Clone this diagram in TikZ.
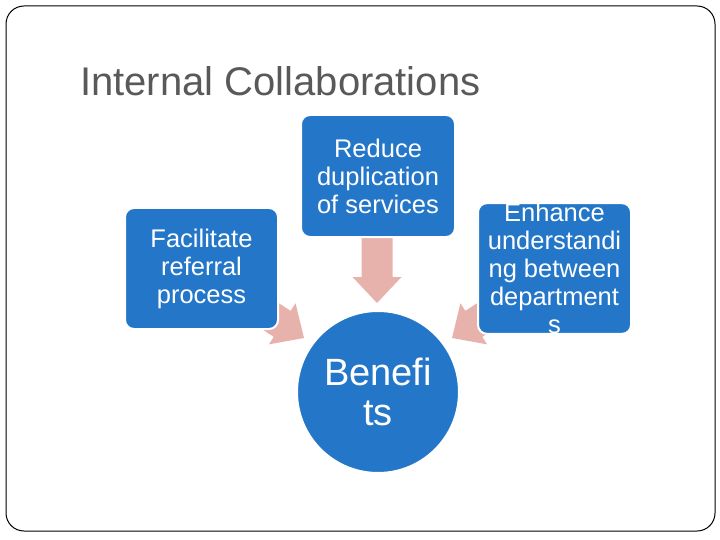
\documentclass[tikz,border=0pt]{standalone}
\usepackage{fontspec}
\setmainfont{Liberation Sans}
\definecolor{sablue}{RGB}{36,119,200}
\definecolor{sapink}{RGB}{231,178,172}
\definecolor{titlegray}{RGB}{89,89,89}
\tikzset{
  pics/bigarrow/.style={code={
    \fill[sapink] (0,0) -- (-26,24.5) -- (-26,15.5) -- (-72,15.5) -- (-72,-15.5) -- (-26,-15.5) -- (-26,-24.5) -- cycle;}},
  boxnode/.style={rectangle, fill=sablue, draw=white, line width=2pt, rounded corners=9pt,
    text=white, align=center, inner sep=0pt, font=\fontsize{25.5}{28}\selectfont},
  hubnode/.style={circle, fill=sablue, draw=white, line width=2pt, inner sep=0pt,
    text=white, align=center, font=\fontsize{38}{40}\selectfont},
}
\begin{document}
\begin{tikzpicture}[x=1pt,y=-1pt]
\useasboundingbox (0,0) rectangle (720,540);
\draw[line width=1pt, rounded corners=18pt] (6,6) rectangle (715,531);
\node[anchor=base west, font=\fontsize{40}{48}\selectfont, text=titlegray, inner sep=0pt] (title) at (80,96) {Internal Collaborations};
% arrows (drawn first, boxes on top)
\coordinate (tipdown) at (377,303);
\coordinate (tipleft) at (304,338);
\coordinate (tipright) at (452,338);
\pic[rotate=-90] at (tipdown) {bigarrow};
\pic[rotate=-33] at (tipleft) {bigarrow};
\pic[rotate=-147] at (tipright) {bigarrow};
% nodes
\node[boxnode, minimum width=153pt, minimum height=121pt] (refer) at (201.5,268.5) {Facilitate\\referral\\process};
\node[boxnode, minimum width=154pt, minimum height=122pt] (dup) at (378,176) {Reduce\\duplication\\of services};
\node[boxnode, minimum width=153pt, minimum height=121pt] (under) at (554.5,268.5) {Enhance\\understandi\\ng between\\department\\s};
\node[hubnode, minimum size=162pt] (benefits) at (378,392) {Benefi\\ts};
\end{tikzpicture}
\end{document}
